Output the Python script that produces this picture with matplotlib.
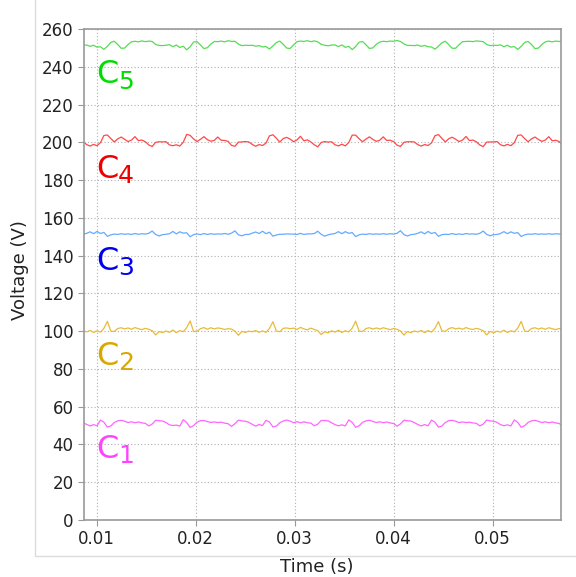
import matplotlib

matplotlib.use("Agg")

import matplotlib.pyplot as plt
import numpy as np
from matplotlib.patches import Rectangle

# sampling instants: 24 samples per ripple period (~8.36 ms)
time_s = 0.0083 + np.arange(142) * (0.00836 / 24)

c5_volts = [
    251.2, 251.4,
    251.5, 250.8, 251.4, 250.4, 250.6, 249.2, 250.8, 252.9, 253.5, 251.8, 249.8, 249.9,
    251.8, 253.2, 253.5, 253.2, 253.7, 253.3, 253.6, 253.4, 251.8, 251.3, 251.2, 251.4,
    251.7, 250.6, 251.5, 250.2, 250.9, 249.0, 250.6, 253.1, 253.3, 251.5, 249.6, 250.1,
    252.0, 253.4, 253.3, 253.6, 253.2, 253.8, 253.4, 253.5, 252.0, 251.2, 251.4, 251.3,
    251.4, 250.9, 251.2, 250.5, 250.7, 249.4, 251.0, 252.8, 253.6, 251.9, 249.9, 249.7,
    251.6, 253.3, 253.6, 253.4, 253.8, 253.3, 253.7, 253.2, 251.9, 251.4, 251.1, 251.5,
    251.6, 250.7, 251.6, 250.3, 250.8, 249.1, 250.7, 253.0, 253.4, 251.6, 249.7, 250.0,
    251.9, 253.1, 253.5, 253.3, 253.6, 253.5, 253.9, 253.4, 252.1, 251.3, 251.3, 251.2,
    251.5, 250.8, 251.3, 250.6, 250.5, 249.3, 250.9, 252.7, 253.5, 251.7, 249.8, 249.8,
    251.7, 253.3, 253.4, 253.5, 253.3, 253.7, 253.5, 253.3, 251.8, 251.2, 251.4, 251.3,
    251.6, 250.6, 251.4, 250.4, 250.7, 249.2, 250.8, 252.9, 253.4, 251.8, 249.6, 249.9,
    251.8, 253.2, 253.6, 253.2, 253.6, 253.4, 253.5, 253.3,
]

c4_volts = [
    200.2, 200.3,
    198.8, 198.0, 198.9, 198.2, 199.8, 203.6, 203.9, 202.0, 200.2, 201.8, 202.8, 201.6,
    200.4, 201.2, 203.0, 200.9, 201.2, 200.3, 198.6, 197.8, 200.0, 200.3, 200.2, 200.3,
    198.6, 198.2, 198.7, 198.0, 200.0, 204.2, 203.7, 201.8, 200.4, 201.6, 203.0, 201.4,
    200.6, 201.0, 202.8, 201.1, 201.0, 200.5, 198.4, 197.9, 200.1, 200.2, 200.4, 200.2,
    198.9, 197.9, 198.8, 198.3, 199.6, 203.4, 204.0, 202.2, 200.1, 202.0, 202.6, 201.7,
    200.3, 201.3, 203.2, 200.8, 201.3, 200.2, 198.7, 197.6, 199.9, 200.4, 200.1, 200.3,
    198.7, 198.1, 199.0, 198.1, 199.9, 203.8, 203.8, 201.9, 200.3, 201.7, 202.9, 201.5,
    200.5, 201.1, 202.9, 201.0, 201.1, 200.4, 198.5, 197.8, 200.0, 200.3, 200.3, 200.2,
    198.8, 198.0, 198.8, 198.3, 199.7, 203.5, 204.1, 202.1, 200.2, 201.9, 202.7, 201.6,
    200.4, 201.2, 203.1, 200.9, 201.2, 200.3, 198.6, 197.7, 200.1, 200.2, 200.2, 200.4,
    198.7, 198.1, 198.9, 198.2, 199.8, 203.7, 203.9, 202.0, 200.3, 201.8, 202.8, 201.5,
    200.5, 201.2, 203.0, 200.8, 201.1, 200.4, 198.5, 197.9,
]

c3_volts = [
    151.1, 151.3,
    151.8, 152.6, 151.6, 152.8, 151.7, 152.3, 150.2, 151.0, 151.4, 151.2, 151.6, 151.3,
    151.5, 151.2, 151.7, 151.3, 151.6, 151.4, 151.8, 153.0, 151.2, 150.4, 151.1, 151.3,
    151.6, 152.8, 151.5, 152.6, 151.9, 152.1, 150.0, 151.1, 151.5, 151.1, 151.7, 151.2,
    151.6, 151.3, 151.5, 151.4, 151.7, 151.3, 151.9, 153.1, 151.0, 150.5, 151.2, 151.2,
    151.9, 152.5, 151.7, 152.9, 151.6, 152.4, 150.3, 150.9, 151.3, 151.3, 151.5, 151.4,
    151.4, 151.2, 151.8, 151.2, 151.5, 151.5, 151.7, 152.9, 151.3, 150.3, 151.0, 151.4,
    151.7, 152.7, 151.6, 152.7, 151.8, 152.2, 150.1, 151.0, 151.4, 151.2, 151.6, 151.3,
    151.5, 151.3, 151.6, 151.3, 151.6, 151.4, 151.8, 153.2, 151.1, 150.4, 151.1, 151.3,
    151.8, 152.6, 151.5, 152.8, 151.7, 152.3, 150.2, 151.1, 151.3, 151.2, 151.7, 151.2,
    151.5, 151.2, 151.7, 151.4, 151.5, 151.3, 151.8, 153.0, 151.2, 150.5, 151.1, 151.2,
    151.7, 152.7, 151.6, 152.6, 151.8, 152.2, 150.1, 151.0, 151.4, 151.3, 151.6, 151.3,
    151.5, 151.3, 151.6, 151.3, 151.6, 151.4, 151.7, 152.8,
]

c2_volts = [
    99.2, 100.1,
    99.6, 100.4, 99.3, 100.2, 99.5, 101.5, 105.2, 100.0, 99.8, 101.4, 101.8, 101.2,
    101.7, 101.0, 101.9, 101.3, 100.8, 101.5, 101.0, 100.2, 98.0, 99.8, 99.2, 100.1,
    99.4, 100.6, 99.2, 100.3, 99.7, 101.8, 105.4, 99.8, 99.9, 101.3, 101.9, 101.0,
    101.8, 101.2, 101.7, 101.4, 100.9, 101.3, 101.1, 100.0, 97.8, 99.9, 99.3, 100.0,
    99.7, 100.3, 99.4, 100.1, 99.4, 101.4, 105.0, 100.1, 99.7, 101.5, 101.7, 101.3,
    101.6, 100.9, 102.0, 101.2, 100.7, 101.6, 100.9, 100.3, 98.2, 99.7, 99.1, 100.2,
    99.5, 100.5, 99.3, 100.2, 99.6, 101.6, 105.3, 100.0, 99.8, 101.4, 101.8, 101.1,
    101.7, 101.1, 101.8, 101.3, 100.8, 101.4, 101.0, 100.1, 97.9, 99.8, 99.2, 100.1,
    99.6, 100.4, 99.2, 100.3, 99.5, 101.5, 105.1, 100.1, 99.9, 101.3, 101.9, 101.2,
    101.6, 101.0, 101.9, 101.2, 100.9, 101.5, 101.0, 100.2, 98.0, 99.9, 99.2, 100.0,
    99.5, 100.5, 99.3, 100.2, 99.6, 101.6, 105.2, 100.0, 99.8, 101.4, 101.8, 101.1,
    101.7, 101.0, 101.8, 101.3, 100.8, 101.4, 101.0, 100.2,
]

c1_volts = [
    52.2, 51.5,
    50.6, 49.8, 50.5, 49.9, 52.9, 51.8, 49.2, 49.8, 51.6, 52.5, 52.8, 52.3,
    51.6, 52.0, 51.5, 51.9, 51.4, 51.2, 49.8, 50.8, 52.8, 52.6, 52.4, 51.6,
    50.4, 50.0, 50.3, 49.7, 53.1, 51.6, 49.0, 50.0, 51.8, 52.6, 52.7, 52.1,
    51.7, 51.9, 51.6, 51.8, 51.3, 51.0, 49.6, 51.0, 52.9, 52.5, 52.3, 51.7,
    50.7, 49.7, 50.6, 50.0, 52.8, 51.9, 49.3, 49.7, 51.5, 52.4, 52.9, 52.4,
    51.5, 52.1, 51.4, 52.0, 51.5, 51.3, 49.9, 50.7, 52.7, 52.7, 52.5, 51.5,
    50.5, 49.9, 50.4, 49.8, 53.0, 51.7, 49.1, 49.9, 51.7, 52.5, 52.8, 52.2,
    51.6, 52.0, 51.5, 51.9, 51.4, 51.1, 49.7, 50.9, 52.8, 52.6, 52.4, 51.6,
    50.6, 49.8, 50.5, 49.9, 52.9, 51.8, 49.2, 49.8, 51.6, 52.6, 52.8, 52.3,
    51.6, 51.9, 51.6, 51.8, 51.4, 51.2, 49.8, 50.8, 52.9, 52.5, 52.3, 51.7,
    50.5, 49.9, 50.4, 49.8, 53.0, 51.7, 49.1, 49.9, 51.7, 52.5, 52.8, 52.2,
    51.6, 52.0, 51.5, 51.9, 51.4, 51.1, 49.7, 50.9,
]

series = [
    ("1", c1_volts, "#ff66ff", "#ff44ff", 33.0),
    ("2", c2_volts, "#e8bb3a", "#d9a800", 82.2),
    ("3", c3_volts, "#66aaff", "#0000ee", 132.5),
    ("4", c4_volts, "#ff4848", "#ee0000", 181.2),
    ("5", c5_volts, "#55dd55", "#00dd00", 231.4),
]

x_ticks = [0.01, 0.02, 0.03, 0.04, 0.05]
y_ticks = list(range(0, 261, 20))

plt.rcParams["font.family"] = ["DejaVu Sans"]

fig = plt.figure(figsize=(5.76, 5.77), dpi=100)
fig.patches.append(
    Rectangle((35 / 576, 1 - 556 / 577), 1.0, 1.0, transform=fig.transFigure,
              fill=False, edgecolor="#dcdcdc", linewidth=1.0)
)
ax = fig.add_axes([84 / 576, 1 - 520 / 577, 477 / 576, 491 / 577])

for name, volts, line_color, label_color, label_y in series:
    ax.plot(time_s, volts, color=line_color, linewidth=0.9)
    ax.text(0.00994, label_y, "C", color=label_color, fontsize=23, va="baseline", ha="left")
    ax.annotate(name, xy=(0.00994, label_y), xytext=(16, -4), textcoords="offset points",
                color=label_color, fontsize=18, va="baseline", ha="left")

ax.set_xlim(0.008727, 0.056909)
ax.set_ylim(0, 260)
ax.set_xticks(x_ticks)
ax.set_xticklabels([f"{v:.2f}" for v in x_ticks])
ax.set_yticks(y_ticks)
ax.grid(True, linestyle=(0, (1, 2)), color="#b0b0b0", linewidth=0.8)
for side in ax.spines.values():
    side.set_color("#999999")
    side.set_linewidth(1.2)
ax.tick_params(axis="both", colors="#999999", labelcolor="#222222", labelsize=12, length=4)

fig.text(20 / 576, 1 - 270 / 577, "Voltage (V)", rotation=90, ha="center", va="center",
         fontsize=13, color="#222222")
fig.text(317 / 576, 1 - 567 / 577, "Time (s)", ha="center", va="center",
         fontsize=13, color="#222222")

fig.savefig("out.png", dpi=100)
plt.close(fig)
